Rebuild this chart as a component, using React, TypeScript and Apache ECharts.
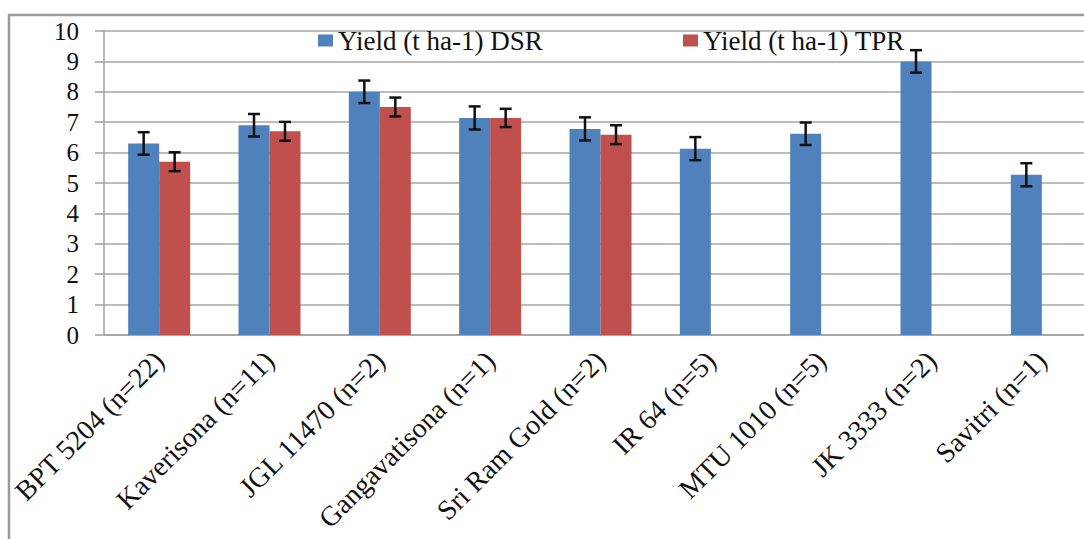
import React, { useEffect, useRef } from "react";
import * as echarts from "echarts";

const categories = [
  "BPT 5204 (n=22)",
  "Kaverisona (n=11)",
  "JGL 11470 (n=2)",
  "Gangavatisona (n=1)",
  "Sri Ram Gold (n=2)",
  "IR 64 (n=5)",
  "MTU 1010 (n=5)",
  "JK 3333 (n=2)",
  "Savitri (n=1)",
];
const dsrName = "Yield (t ha-1) DSR";
const tprName = "Yield (t ha-1) TPR";
const dsrValues = [6.3, 6.9, 8.0, 7.14, 6.78, 6.13, 6.62, 9.0, 5.27];
const tprValues: (number | null)[] = [5.7, 6.7, 7.5, 7.14, 6.59, null, null, null, null];
const dsrErr = [0.37, 0.37, 0.37, 0.38, 0.38, 0.38, 0.37, 0.37, 0.38];
const tprErr: (number | null)[] = [0.31, 0.31, 0.31, 0.3, 0.31, null, null, null, null];
const yTicks = { min: 0, max: 10, interval: 1 };

const FONT = "Liberation Serif, Times New Roman, DejaVu Serif, serif";
const BLUE = "#4f81bd";
const RED = "#c0504d";
const BAR_W = 31;

function errData(vals: (number | null)[], errs: (number | null)[]) {
  const out: number[][] = [];
  vals.forEach((v, i) => {
    const e = errs[i];
    if (v != null && e != null) out.push([i, v - e, v + e]);
  });
  return out;
}

function errRender(offset: number) {
  return (params: any, api: any) => {
    const i = api.value(0);
    const lo = api.coord([i, api.value(1)]);
    const hi = api.coord([i, api.value(2)]);
    const cx = lo[0] + offset;
    const hw = 6;
    const style = { stroke: "#111", lineWidth: 2.5 };
    return {
      type: "group",
      children: [
        { type: "line", shape: { x1: cx, y1: hi[1], x2: cx, y2: lo[1] }, style },
        { type: "line", shape: { x1: cx - hw, y1: hi[1], x2: cx + hw, y2: hi[1] }, style },
        { type: "line", shape: { x1: cx - hw, y1: lo[1], x2: cx + hw, y2: lo[1] }, style },
      ],
    };
  };
}

export default function App() {
  const ref = useRef<HTMLDivElement>(null);
  useEffect(() => {
    if (!ref.current) return;
    const chart = echarts.init(ref.current, null, { renderer: "svg" });
    const legendText = { fontFamily: FONT, fontSize: 27, color: "#111" };
    chart.setOption({
      animation: false,
      backgroundColor: "#fff",
      textStyle: { fontFamily: FONT },
      graphic: [
        {
          type: "rect",
          shape: { x: 9, y: 15, width: 1200, height: 700 },
          style: { fill: "none", stroke: "#9a9a9a", lineWidth: 2.5 },
          z: 100,
        },
      ],
      legend: [
        {
          data: [dsrName],
          left: 313,
          top: 22,
          icon: "rect",
          itemWidth: 15,
          itemHeight: 12,
          itemGap: 0,
          textStyle: legendText,
        },
        {
          data: [tprName],
          left: 678,
          top: 22,
          icon: "rect",
          itemWidth: 15,
          itemHeight: 12,
          itemGap: 0,
          textStyle: legendText,
        },
      ],
      grid: {
        left: 104,
        top: 31,
        width: 993,
        height: 304,
        containLabel: false,
        outerBoundsMode: "none",
      },
      xAxis: {
        type: "category",
        data: categories,
        axisLine: { lineStyle: { color: "#a0a0a0", width: 1.5 } },
        axisTick: { length: 7, lineStyle: { color: "#a0a0a0", width: 1.5 } },
        axisLabel: {
          rotate: 45,
          interval: 0,
          margin: 21,
          fontFamily: FONT,
          fontSize: 28,
          color: "#111",
        },
      },
      yAxis: {
        type: "value",
        min: yTicks.min,
        max: yTicks.max,
        interval: yTicks.interval,
        axisLine: { show: true, lineStyle: { color: "#a0a0a0", width: 1.5 } },
        axisTick: { show: true, length: 9, lineStyle: { color: "#a0a0a0", width: 1.5 } },
        axisLabel: { margin: 25, fontFamily: FONT, fontSize: 25, color: "#111" },
        splitLine: { lineStyle: { color: "#a6a6a6", width: 1.5 } },
      },
      series: [
        {
          name: dsrName,
          type: "bar",
          data: dsrValues,
          barWidth: BAR_W,
          barGap: "0%",
          itemStyle: { color: BLUE },
        },
        {
          name: tprName,
          type: "bar",
          data: tprValues,
          barWidth: BAR_W,
          barGap: "0%",
          itemStyle: { color: RED },
        },
        {
          type: "custom",
          name: "errDSR",
          data: errData(dsrValues, dsrErr),
          renderItem: errRender(-BAR_W / 2),
          z: 10,
        },
        {
          type: "custom",
          name: "errTPR",
          data: errData(tprValues, tprErr),
          renderItem: errRender(BAR_W / 2),
          z: 10,
        },
      ],
    });
    return () => chart.dispose();
  }, []);
  return (
    <div
      ref={ref}
      style={{ position: "absolute", left: 0, top: 0, width: 1084, height: 539 }}
    />
  );
}
